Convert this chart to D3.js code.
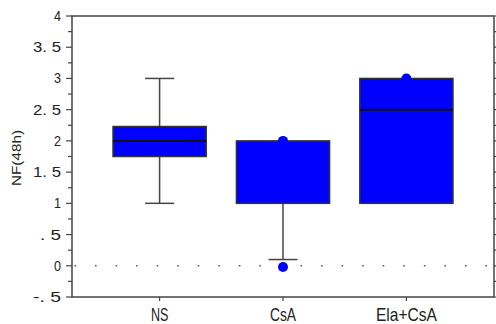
<!DOCTYPE html>
<html>
<head>
<meta charset="utf-8">
<script src="https://cdn.jsdelivr.net/npm/d3@7"></script>
<style>
  body { margin: 0; background: #fff; }
  text { font-family: "Liberation Sans", Arial, sans-serif; fill: #222; }
</style>
</head>
<body>
<div id="chart"></div>
<script>
// data
const categories = ["NS", "CsA", "Ela+CsA"];
const q1 = [1.75, 1, 1];
const medians = [2, null, 2.5];
const q3 = [2.23, 2, 3];
const whiskerLow = [1, 0.1, null];
const whiskerHigh = [3, null, null];
const outliers = [[], [2, -0.02], [3]];
const yTicks = [-0.5, 0, 0.5, 1, 1.5, 2, 2.5, 3, 3.5, 4];
const yTickLabels = ["-. 5", "0", ". 5", "1", "1. 5", "2", "2. 5", "3", "3. 5", "4"];

const W = 496, H = 324;
const margin = { top: 16, right: 2, bottom: 27, left: 72 };
const width = W - margin.left - margin.right,
    height = H - margin.top - margin.bottom;

const svg = d3.select("#chart")
    .append("svg")
    .attr("width", W)
    .attr("height", H)
    .append("g")
    .attr("transform", `translate(${margin.left}, ${margin.top})`);

const x = d3.scalePoint()
    .domain(categories)
    .range([0, width])
    .padding(0.71);

const y = d3.scaleLinear()
    .domain([-0.5, 4])
    .range([height, 0]);

const boxW = x.step() * 0.755;
const capW = 29;
const minorTicks = d3.range(-0.5, 4.001, 0.25);

// frame
svg.append("rect")
    .attr("width", width)
    .attr("height", height)
    .attr("fill", "none")
    .attr("stroke", "#444")
    .attr("stroke-width", 1.5);

// left axis ticks
svg.append("g").selectAll("line")
    .data(minorTicks)
    .join("line")
    .attr("x1", d => yTicks.some(t => Math.abs(t - d) < 1e-6) ? -6 : -4)
    .attr("x2", 0)
    .attr("y1", d => y(d))
    .attr("y2", d => y(d))
    .attr("stroke", "#444")
    .attr("stroke-width", 1.2);

// right axis ticks
svg.append("g").selectAll("line")
    .data(minorTicks)
    .join("line")
    .attr("x1", width)
    .attr("x2", width + 4)
    .attr("y1", d => y(d))
    .attr("y2", d => y(d))
    .attr("stroke", "#444")
    .attr("stroke-width", 1.2);

// y labels
svg.append("g").selectAll("text")
    .data(yTicks)
    .join("text")
    .attr("x", -11)
    .attr("y", d => y(d) + 5)
    .attr("text-anchor", "end")
    .attr("font-size", 15)
    .attr("textLength", (d, i) => yTickLabels[i].length * 7)
    .attr("lengthAdjust", "spacingAndGlyphs")
    .text((d, i) => yTickLabels[i]);

// x ticks and labels
svg.append("g").selectAll("line")
    .data(categories)
    .join("line")
    .attr("x1", d => x(d))
    .attr("x2", d => x(d))
    .attr("y1", height)
    .attr("y2", height + 4)
    .attr("stroke", "#444")
    .attr("stroke-width", 1.2);

svg.append("g").selectAll("text")
    .data(categories)
    .join("text")
    .attr("x", d => x(d))
    .attr("y", height + 24)
    .attr("text-anchor", "middle")
    .attr("font-size", 19)
    .attr("textLength", d => d.length * 8.7)
    .attr("lengthAdjust", "spacingAndGlyphs")
    .text(d => d);

// y title
svg.append("text")
    .attr("transform", `translate(${21 - margin.left}, ${158 - margin.top}) rotate(-90)`)
    .attr("text-anchor", "middle")
    .attr("font-size", 12.5)
    .attr("textLength", 56)
    .attr("lengthAdjust", "spacingAndGlyphs")
    .text("NF(48h)");

// dotted zero line
svg.append("line")
    .attr("x1", 2.5)
    .attr("x2", width - 6)
    .attr("y1", y(0))
    .attr("y2", y(0))
    .attr("stroke", "#555")
    .attr("stroke-width", 1.5)
    .attr("stroke-dasharray", "1.5,19.05");

// whiskers
categories.forEach((c, i) => {
    const cx = x(c);
    if (whiskerHigh[i] != null) {
        svg.append("line").attr("x1", cx).attr("x2", cx)
            .attr("y1", y(q3[i])).attr("y2", y(whiskerHigh[i]))
            .attr("stroke", "#444").attr("stroke-width", 1.5);
        svg.append("line").attr("x1", cx - capW / 2).attr("x2", cx + capW / 2)
            .attr("y1", y(whiskerHigh[i])).attr("y2", y(whiskerHigh[i]))
            .attr("stroke", "#444").attr("stroke-width", 1.5);
    }
    if (whiskerLow[i] != null) {
        svg.append("line").attr("x1", cx).attr("x2", cx)
            .attr("y1", y(q1[i])).attr("y2", y(whiskerLow[i]))
            .attr("stroke", "#444").attr("stroke-width", 1.5);
        svg.append("line").attr("x1", cx - capW / 2).attr("x2", cx + capW / 2)
            .attr("y1", y(whiskerLow[i])).attr("y2", y(whiskerLow[i]))
            .attr("stroke", "#444").attr("stroke-width", 1.5);
    }
});

// boxes
svg.append("g").selectAll("rect")
    .data(categories)
    .join("rect")
    .attr("x", d => x(d) - boxW / 2)
    .attr("y", (d, i) => y(q3[i]))
    .attr("width", boxW)
    .attr("height", (d, i) => y(q1[i]) - y(q3[i]))
    .attr("fill", "#0000ff")
    .attr("stroke", "#333")
    .attr("stroke-width", 1.5);

// medians
svg.append("g").selectAll("line")
    .data(categories.filter((d, i) => medians[i] != null))
    .join("line")
    .attr("x1", d => x(d) - boxW / 2)
    .attr("x2", d => x(d) + boxW / 2)
    .attr("y1", d => y(medians[categories.indexOf(d)]))
    .attr("y2", d => y(medians[categories.indexOf(d)]))
    .attr("stroke", "#111")
    .attr("stroke-width", 2);

// outliers
const pts = [];
categories.forEach((c, i) => outliers[i].forEach(v => pts.push({ c, v })));
svg.append("g").selectAll("circle")
    .data(pts)
    .join("circle")
    .attr("cx", d => x(d.c))
    .attr("cy", d => y(d.v))
    .attr("r", 5)
    .attr("fill", "#0000ff");
</script>
</body>
</html>
